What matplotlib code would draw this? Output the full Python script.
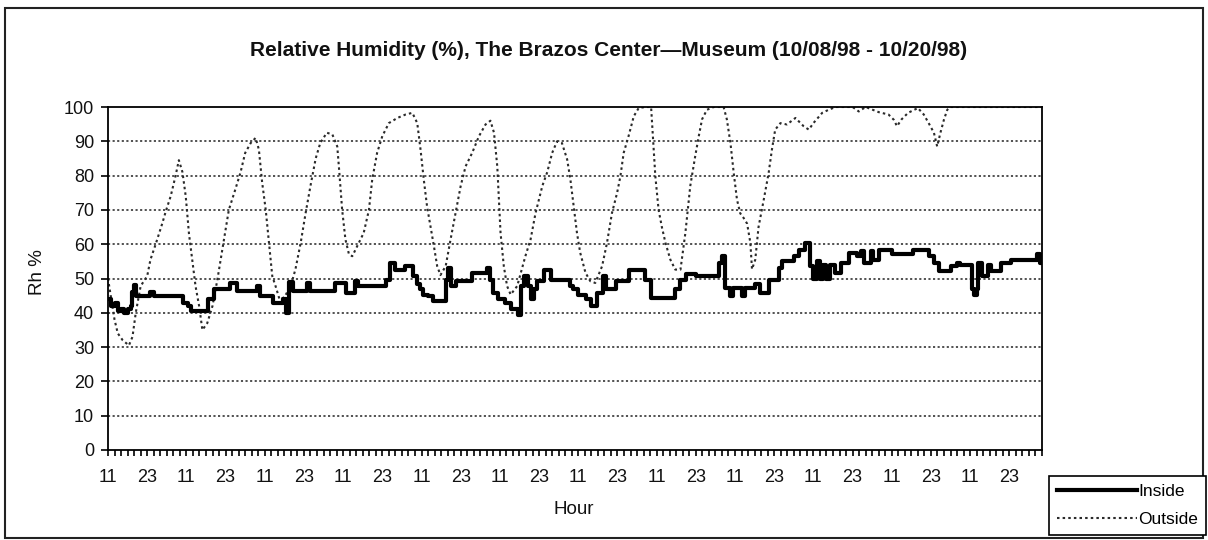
import numpy as np
import matplotlib
matplotlib.use('Agg')
from matplotlib import pyplot as plt
from matplotlib.patches import Rectangle

plt.rcParams['font.family'] = ['Liberation Sans', 'DejaVu Sans']

# hours counted from 11:00 on 10/08/98
outside_hours = [0, 1, 2, 3, 4.5, 6.4, 7.5, 8.5, 10, 12, 13, 14.6, 16.6, 17.7, 19.2, 20.7, 21.7,
                 22.8, 23.8, 24.8, 25.8, 26.8, 27.9, 28.9, 30.4, 32, 33.5, 35.5, 37, 39, 40.6, 42,
                 43.7, 45.2, 46.2, 47.2, 48.3, 49.3, 50.3, 51.3, 52.5, 54, 56, 57.4, 59, 60.5, 62,
                 63.6, 65, 67, 68.7, 70.2, 70.7, 71.7, 72.7, 73.8, 74.8, 76.3, 78.3, 79.9, 80.9,
                 82.4, 84, 86, 88.6, 91.1, 93.2, 94.7, 95.7, 96.7, 97.7, 98.8, 99.8, 100.8, 101.8,
                 103.4, 104.9, 106.4, 108, 109.5, 111.5, 113.6, 115.6, 117.1, 118.2, 119.2, 119.7,
                 120.2, 121.2, 122.2, 123.3, 125.3, 127.8, 129.4, 130.9, 133, 134.5, 136, 137.5,
                 139, 140.6, 141.6, 142.6, 143.6, 144.6, 146.2, 147.7, 149.2, 151.3, 152.8, 154.3,
                 155.9, 156.9, 157.9, 159.4, 161, 162.5, 164.5, 166.3, 166.9, 167.6, 168.6, 169.6,
                 170.7, 172.2, 173.7, 175.3, 176.8, 178.3, 179.8, 180.9, 181.9, 183.4, 185.5, 188.5,
                 189.5, 190.6, 191.6, 192.6, 193.6, 194.6, 195.7, 196.7, 197.2, 198.2, 199.2, 200.8,
                 202.3, 203.3, 204.3, 205.9, 207.9, 210.5, 213, 214.6, 216, 218.7, 220.7, 222.8,
                 228, 229.9, 232, 236, 239, 240.6, 241.6, 243, 245, 248, 249.8, 251.3, 252.9,
                 253.9, 254.9, 256, 257, 258, 286]
outside_rh = [50, 44, 38, 34, 32, 30.5, 33, 40, 47.8, 50.7, 55.5, 60, 66, 69.6, 74, 80, 84.5,
              81, 74, 63, 55.5, 47.8, 42, 35, 37, 42, 49.7, 61.4, 70, 76, 81, 86.6,
              89.5, 91, 87.6, 78, 70, 60.4, 50.7, 47.8, 44, 44.5, 48, 52.7, 60.4, 69, 77,
              85, 89.5, 92.5, 92, 88.5, 82.6, 70, 61.4, 57, 56.5, 59.4, 63.3, 70, 78.8,
              86.6, 91.5, 95.3, 96.8, 97.8, 98.3, 95.3, 87.6, 78.8, 71, 65, 59.4, 53.6, 51,
              53.6, 61.4, 69, 77, 82.7, 86.6, 91.5, 94.9, 96, 92.5, 82.7, 73,
              63.3, 53.6, 47.8, 45.3, 47.8, 56.5, 61.4, 69, 77, 81, 86.6, 90,
              89.5, 84.7, 78.8, 71, 63.3, 57.5, 51.7, 49.2, 48.7, 53.6, 60.4, 69,
              75, 79.8, 86.6, 91.5, 97.3, 99.7, 100, 100, 90.5, 79.8, 70, 65,
              60.4, 55.5, 52.6, 52.6, 63.3, 77, 85.6, 91.5, 96.4, 99.2, 100, 100,
              96.4, 89.5, 80.8, 73, 69, 67.7, 66, 60.4, 52.7, 55.5, 65, 73,
              80.8, 87.6, 93.4, 95.3, 94.9, 96.8, 94.4, 93.4, 95.3, 98.3, 99.2, 100,
              100, 98.7, 100, 98.5, 97.8, 96.3, 94.4, 96.4, 98.3, 99.7, 97.8, 95.3, 92.5,
              88.5, 92.5, 96.4, 99.2, 100, 100]

inside_hours = [0, 1, 2, 3, 4, 5, 6, 7, 7.5, 8, 8.5, 13, 14, 23, 24.5, 25.5, 30.5, 32.5, 37.5,
                39.5, 45.5, 46.5, 50.5, 53.5, 54.5, 55.5, 56.5, 61, 62, 69.5, 72.8, 75.5, 76.5,
                85, 86.5, 88, 91, 93.5, 94.5, 95.5, 96.5, 98, 99.5, 103.5, 104, 105, 106.5,
                111.5, 116, 117, 118, 119.5, 121.5, 123.5, 125.5, 126.5, 127.5, 128.5, 129.5,
                130.5, 131.5, 133.5, 135.5, 141.5, 142.5, 144, 146.5, 148, 149.8, 151.5, 152.5,
                155.5, 159.5, 164.3, 166.3, 173.5, 175, 177, 180, 187, 188, 189, 190.5, 191.5,
                194, 195, 198, 199.5, 202.5, 205.5, 206.5, 210, 211.5, 213.5, 215, 216, 217,
                218, 219, 220, 221, 222.5, 224.5, 227, 229.5, 230.5, 231.5, 233.5, 234.3, 236,
                240, 246.5, 251.5, 253, 254.5, 258, 260, 261, 264.5, 265.2, 266, 266.5, 267.5,
                269.5, 270.5, 273.5, 276.5, 284.5, 285.5, 286]
inside_rh = [44, 42, 43, 40.5, 41, 40, 41, 42, 46, 48, 45, 46, 45, 43, 42, 40.5, 44, 46.8, 48.7,
             46.3, 47.8, 45, 43, 44, 40, 49, 46.3, 48.7, 46.3, 48.7, 45.8, 49.2, 47.8,
             49.7, 54.6, 52.6, 53.6, 50.7, 48.3, 46.8, 45.3, 45, 43.4, 49.7, 53, 47.8, 49.2,
             51.7, 53, 49.7, 45.8, 43.9, 42.9, 41, 39.5, 47.8, 50.7, 47.8, 44,
             46.8, 49.2, 52.6, 49.7, 47.8, 46.8, 45.3, 43.9, 42, 45.8, 50.7, 46.8,
             49.2, 52.6, 49.7, 44.4, 46.8, 49.7, 51.2, 50.7, 54.6, 56.5, 47.3, 44.9, 47.3,
             44.9, 47.3, 48.3, 45.8, 49.7, 53, 55, 56.5, 58.4, 60.4, 53.6, 50, 55,
             50, 54, 50, 54, 51.7, 54.6, 57.5, 56.5, 58, 54.6, 58, 55.5, 58.4,
             57, 58.4, 56.5, 54.6, 52.1, 53.6, 54.6, 54, 47, 45.3, 47, 54.6, 50.7,
             54, 52.1, 54.6, 55.5, 57, 54.6, 54.6]

tick_hours = list(range(0, 277, 12))
tick_labels = ['11', '23'] * 12
y_ticks = list(range(0, 101, 10))

fig = plt.figure(figsize=(12.08, 5.4), dpi=100)
ax = fig.add_axes([108 / 1208, 1 - 450 / 540, 934 / 1208, 343 / 540])

# horizontal dotted gridlines
for y in y_ticks[1:-1]:
    ax.axhline(y, color='#222222', lw=1.1, ls=(0, (1.4, 1.6)), zorder=1)

ax.plot(outside_hours, outside_rh, color='#2a2a2a', lw=1.5, ls=(0, (1.2, 1.5)),
        label='Outside', zorder=2)
ax.plot(inside_hours, inside_rh, color='black', lw=3.0, drawstyle='steps-post',
        label='Inside', zorder=3)

ax.set_xlim(0, 286)
ax.set_ylim(0, 100)
ax.set_yticks(y_ticks)
ax.set_xticks(tick_hours)
ax.set_xticklabels(tick_labels)
ax.set_xticks(np.arange(0, 287, 2), minor=True)
ax.tick_params(axis='both', which='both', direction='out', color='black', width=1.2)
ax.tick_params(axis='x', which='both', length=4, pad=10)
ax.tick_params(axis='y', length=5, pad=5)
ax.tick_params(labelsize=13, labelcolor='#111111')
for s in ax.spines.values():
    s.set_linewidth(1.3)

fig.text(609 / 1208, 1 - 50 / 540, 'Relative Humidity (%), The Brazos Center\u2014Museum (10/08/98 - 10/20/98)',
         ha='center', va='center', fontsize=15, fontweight='bold', color='#111111')
fig.text(38 / 1208, 1 - 272 / 540, 'Rh %', rotation=90, ha='center', va='center', fontsize=13.5,
         color='#111111')
fig.text(574 / 1208, 1 - 510 / 540, 'Hour', ha='center', va='center', fontsize=13.5, color='#111111')

# outer chart frame
fig.patches.append(Rectangle((5 / 1208, 1 - 538 / 540), 1198 / 1208, 530 / 540,
                             transform=fig.transFigure, fill=False, lw=1.5, edgecolor='#222222'))

h, l = ax.get_legend_handles_labels()
leg = fig.legend(h[::-1], l[::-1], loc='upper right', bbox_to_anchor=(1206 / 1208, 1 - 476 / 540),
                 fontsize=12.5, frameon=True, fancybox=False, handlelength=4.6, handletextpad=0.1,
                 borderpad=0.45, labelspacing=0.75, borderaxespad=0, framealpha=1)
leg.get_frame().set_edgecolor('black')
leg.get_frame().set_linewidth(1.2)

fig.savefig('out.png', dpi=100)
